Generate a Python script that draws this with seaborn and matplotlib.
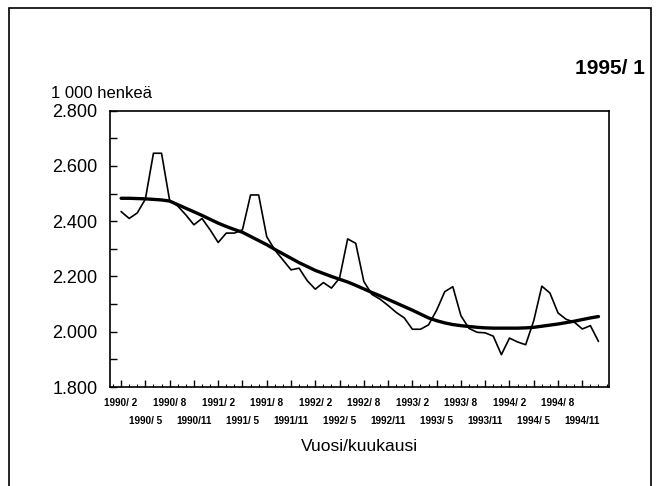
import matplotlib
matplotlib.use("Agg")
import matplotlib.pyplot as plt
from matplotlib.patches import Rectangle
from matplotlib.ticker import FixedLocator, MultipleLocator, FuncFormatter
import seaborn as sns
import pandas as pd

# kuukausisarja 1990/2 - 1995/1, 1 000 henkeä
employed = [2435, 2410, 2430, 2480, 2646, 2646, 2475, 2455, 2423, 2387,
            2410, 2369, 2323, 2357, 2357, 2369, 2495, 2495, 2344, 2296,
            2260, 2224, 2230, 2185, 2154, 2178, 2158, 2194, 2336, 2320,
            2182, 2135, 2118, 2095, 2070, 2050, 2009, 2009, 2025, 2078,
            2145, 2163, 2058, 2012, 1998, 1996, 1984, 1917, 1977, 1963,
            1953, 2040, 2165, 2140, 2068, 2045, 2035, 2010, 2022, 1965]

trend = [2483, 2483, 2482, 2481, 2479, 2477, 2473, 2460, 2447, 2434,
         2421, 2407, 2393, 2381, 2370, 2360, 2345, 2330, 2315, 2298,
         2282, 2266, 2250, 2236, 2222, 2211, 2200, 2190, 2180, 2168,
         2155, 2142, 2130, 2117, 2104, 2091, 2078, 2064, 2050, 2040,
         2032, 2026, 2022, 2019, 2016, 2014, 2013, 2013, 2013, 2013,
         2014, 2016, 2020, 2024, 2028, 2033, 2038, 2044, 2050, 2055]

tick_labels = ["1990/ 2", "1990/ 5", "1990/ 8", "1990/11",
               "1991/ 2", "1991/ 5", "1991/ 8", "1991/11",
               "1992/ 2", "1992/ 5", "1992/ 8", "1992/11",
               "1993/ 2", "1993/ 5", "1993/ 8", "1993/11",
               "1994/ 2", "1994/ 5", "1994/ 8", "1994/11"]
y_ticks = [1800, 2000, 2200, 2400, 2600, 2800]

df = pd.DataFrame({"kk": range(len(employed)), "tyolliset": employed, "trendi": trend})

sns.set_style("ticks")
plt.rcParams["font.family"] = ["Liberation Sans", "DejaVu Sans"]
plt.rcParams.update({"text.color": "black", "axes.labelcolor": "black",
                     "xtick.color": "black", "ytick.color": "black"})

W, H = 660, 486
fig = plt.figure(figsize=(W / 100, H / 100), dpi=100)
ax = fig.add_axes([110 / W, 1 - 387 / H, 499 / W, 276.3 / H])

sns.lineplot(data=df, x="kk", y="tyolliset", color="black", lw=1.2, ax=ax)
sns.lineplot(data=df, x="kk", y="trendi", color="black", lw=2.4, ax=ax)

ax.set_xlim(-1.37, 60.3)
ax.set_ylim(1800, 2800)

ax.yaxis.set_major_locator(FixedLocator(y_ticks))
ax.yaxis.set_minor_locator(MultipleLocator(100))
ax.yaxis.set_major_formatter(FuncFormatter(lambda v, p: f"{v:,.0f}".replace(",", ".")))

ax.tick_params(axis="x", which="major", direction="in", length=5, width=1, pad=8, labelsize=7.2)
ax.tick_params(axis="x", which="minor", direction="in", length=2.5, width=0.8)
ax.tick_params(axis="y", which="both", direction="in", length=5, width=1, pad=9, labelsize=13)

# x-akseli: kuukausittain pienet tikit, joka kolmas nimetty kahdessa rivissä
ax.xaxis.set_major_locator(FixedLocator(list(range(0, 60, 3))))
ax.xaxis.set_minor_locator(MultipleLocator(1))
ax.set_xticklabels(tick_labels, fontweight="bold")
for tick in ax.xaxis.get_major_ticks()[1::2]:
    tick.set_pad(21)

for s in ax.spines.values():
    s.set_linewidth(1.2)
    s.set_color("black")

ax.set_ylabel("")
ax.set_xlabel("Vuosi/kuukausi", fontsize=12.5)
ax.xaxis.set_label_coords(0.5, -0.217)
ax.xaxis.label.set_va("center")

fig.text(51 / W, 1 - 93 / H, "1 000 henkeä", fontsize=12, va="center", ha="left")
fig.text(645 / W, 1 - 68.6 / H, "1995/ 1", fontsize=15, fontweight="bold", va="center", ha="right")

# kehys koko kuvan ympärillä
fig.add_artist(Rectangle((9 / W, -0.05), 642 / W, 1 - 8.5 / H + 0.05,
                         transform=fig.transFigure, fill=False, lw=1.2, ec="black"))

fig.savefig("out.png", dpi=100)
plt.close(fig)
